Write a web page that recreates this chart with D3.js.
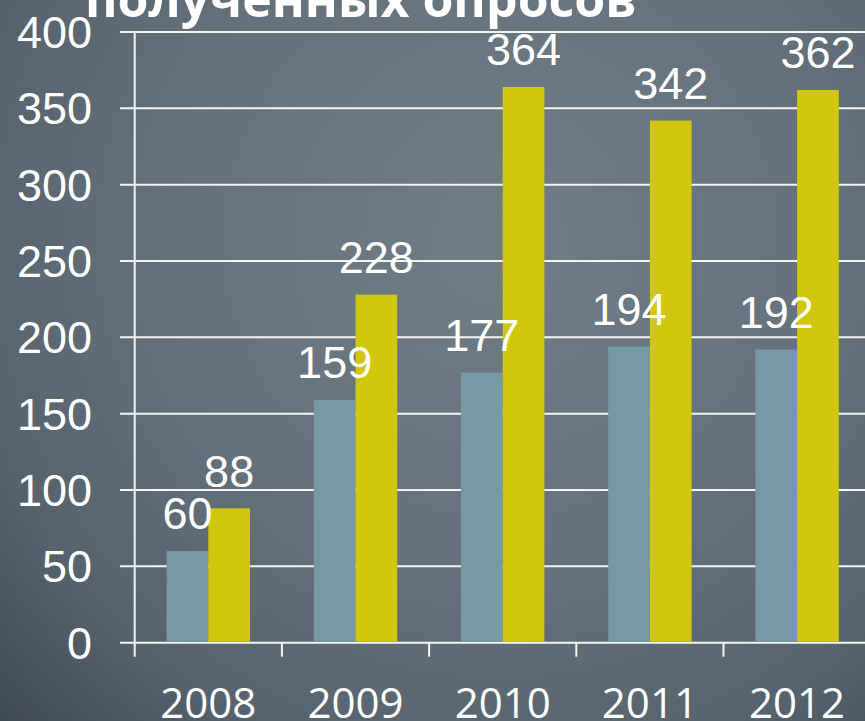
<!DOCTYPE html>
<html><head><meta charset="utf-8">
<script src="https://cdn.jsdelivr.net/npm/d3@7"></script>
<style>html,body{margin:0;padding:0;background:#5e6a74;}svg{display:block;}</style>
</head><body>
<script>
const categories = ["2008","2009","2010","2011","2012"];
const seriesNames = ["A","B"];
const seriesA = [60,159,177,194,192];
const seriesB = [88,228,364,342,362];
const yTicks = [0,50,100,150,200,250,300,350,400];
const titleText = "полученных опросов";

const W = 865, H = 721;
const svg = d3.select("body").append("svg").attr("width", W).attr("height", H);
const defs = svg.append("defs");
const g = defs.append("radialGradient").attr("id","bg").attr("gradientUnits","userSpaceOnUse")
  .attr("cx",500).attr("cy",240).attr("r",720);
g.append("stop").attr("offset","0%").attr("stop-color","#707d87");
g.append("stop").attr("offset","45%").attr("stop-color","#65717b");
g.append("stop").attr("offset","75%").attr("stop-color","#56626c");
g.append("stop").attr("offset","100%").attr("stop-color","#3a4550");
svg.append("rect").attr("width",W).attr("height",H).attr("fill","url(#bg)");

const y = d3.scaleLinear().domain([0,400]).range([642.7,32]);
const x0 = d3.scaleBand().domain(categories).range([134.7,870.7]).padding(0);
const x1 = d3.scaleBand().domain(seriesNames).range([0,x0.bandwidth()]).paddingInner(0).paddingOuter(0.765);
const colors = {A:"#7699a5", B:"#d0c70e"};

// title
const t = svg.append("text").attr("x",85).attr("y",17).attr("fill","#fff")
  .attr("font-family","'Open Sans', sans-serif").attr("font-weight","bold")
  .attr("font-size",50).text(titleText);
const tl = t.node().getComputedTextLength();
t.attr("font-size", 50*552/tl);

// gridlines
svg.append("g").selectAll("line").data(yTicks).join("line")
  .attr("x1",120).attr("x2",W).attr("y1",d=>y(d)).attr("y2",d=>y(d))
  .attr("stroke","#f4f4f4").attr("stroke-width",2);
// y axis line
svg.append("line").attr("x1",134.7).attr("x2",134.7).attr("y1",y(400)).attr("y2",656.7)
  .attr("stroke","#f4f4f4").attr("stroke-width",2);
// x ticks
svg.append("g").selectAll("line").data(categories.slice(1)).join("line")
  .attr("x1",d=>x0(d)).attr("x2",d=>x0(d)).attr("y1",y(0)).attr("y2",656.7)
  .attr("stroke","#f4f4f4").attr("stroke-width",2);

// y labels
svg.append("g").selectAll("text").data(yTicks).join("text")
  .attr("x",92).attr("y",d=>y(d)+16).attr("text-anchor","end").attr("fill","#fff")
  .attr("font-family","'Liberation Sans', Arial, sans-serif").attr("font-size",45)
  .text(d=>d);

// bars
const rows = categories.map((c,i)=>({cat:c, vals:[{s:"A",v:seriesA[i]},{s:"B",v:seriesB[i]}]}));
const grp = svg.append("g").selectAll("g").data(rows).join("g")
  .attr("transform",d=>`translate(${x0(d.cat)},0)`);
grp.selectAll("rect").data(d=>d.vals).join("rect")
  .attr("x",d=>x1(d.s)).attr("width",x1.bandwidth())
  .attr("y",d=>y(d.v)).attr("height",d=>y(0)-y(d.v)-1)
  .attr("fill",d=>colors[d.s]);
grp.selectAll("text").data(d=>d.vals).join("text")
  .attr("x",d=>x1(d.s)+x1.bandwidth()/2).attr("y",d=>y(d.v)-21.7)
  .attr("text-anchor","middle").attr("fill","#fff")
  .attr("font-family","'Liberation Sans', Arial, sans-serif").attr("font-size",45)
  .text(d=>d.v);

// x labels
svg.append("g").selectAll("text").data(categories).join("text")
  .attr("x",d=>x0(d)+x0.bandwidth()/2).attr("y",718).attr("text-anchor","middle")
  .attr("fill","#fff").attr("font-family","'Open Sans', sans-serif").attr("font-size",42)
  .text(d=>d);
</script>
</body></html>
